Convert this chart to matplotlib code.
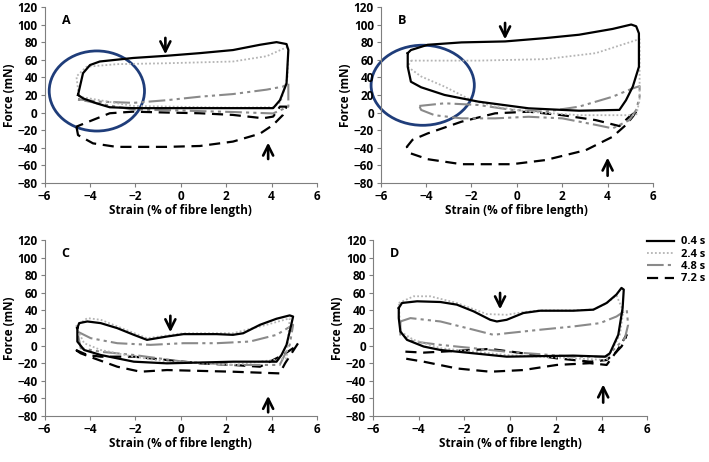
import matplotlib
matplotlib.use("Agg")
import matplotlib.pyplot as plt
from matplotlib.patches import Ellipse

plt.rcParams['font.family'] = ['Open Sans', 'DejaVu Sans']
plt.rcParams['font.weight'] = 'bold'

# legend labels
labels = ['0.4 s', '2.4 s', '4.8 s', '7.2 s']

# panel A loops (strain %, force mN)
A_04 = [(-4.53, 20), (-4.31, 44.7), (-4.0, 54), (-3.57, 58), (-2.1, 62), (-0.63, 64.5), (0.84, 67.5),
        (2.3, 71), (3.49, 77), (4.22, 80), (4.66, 77.8), (4.74, 71), (4.66, 33), (4.37, 14), (4.07, 5),
        (2.3, 5), (-2.1, 5), (-3.13, 6), (-3.72, 10.5), (-4.3, 16), (-4.53, 20)]
A_24 = [(-4.5, 20), (-4.6, 41), (-4.16, 52), (-2.8, 55), (-0.63, 56), (2.3, 58), (3.78, 64), (4.74, 75),
        (4.7, 40), (4.4, 12), (4.07, 6), (2.3, 5.5), (-2.1, 7.5), (-3.57, 14), (-4.46, 18), (-4.5, 20)]
A_48 = [(-4.53, 15), (-3.57, 12.4), (-2.1, 11), (-0.63, 14), (0.84, 18), (2.3, 21), (3.78, 26), (4.5, 29.5),
        (4.74, 33), (4.74, 6.7), (4.07, -1), (2.3, 0.6), (-0.63, 2.7), (-2.1, 3.3), (-3.57, 10), (-4.53, 15)]
A_72 = [(-4.6, -16), (-4.53, -25.6), (-3.87, -35), (-2.84, -39), (-0.63, -39), (0.84, -38), (2.3, -33),
        (3.49, -24), (4.07, -14), (4.5, -2.8), (4.66, 6.7), (4.37, 6.7), (4.07, -4.6), (3.63, -6.5),
        (2.3, -2.7), (0.84, -0.8), (-0.63, 0), (-2.1, 1), (-3.13, -0.8), (-3.87, -8.4), (-4.6, -16)]

# panel B loops
B_04 = [(-4.81, 67.5), (-4.67, 71), (-3.93, 77), (-2.44, 79.7), (-0.52, 80.8), (1.26, 84.6), (2.74, 88.4),
        (4.22, 95), (5.04, 100), (5.26, 98), (5.38, 90), (5.38, 52), (5.11, 29.5), (4.81, 14), (4.52, 3),
        (2.74, 2.1), (0.52, 4.8), (-1.7, 12.4), (-3.19, 20), (-4.22, 28.7), (-4.67, 35), (-4.81, 52),
        (-4.81, 67.5)]
B_24 = [(-4.67, 59), (-1.7, 59), (1.26, 60.7), (3.48, 67.5), (5.41, 83.5), (5.41, 14), (5.26, -3),
        (2.74, -3), (0.52, 1), (-0.96, 6.7), (-2.0, 14), (-3.19, 29.5), (-4.22, 41), (-4.81, 52), (-4.67, 59)]
B_48 = [(-4.3, 7.5), (-3.19, 10.5), (-1.7, 8.6), (-0.22, 3), (1.26, 1), (2.74, 6.7), (4.22, 18),
        (5.11, 27.5), (5.41, 30), (5.41, 18), (5.26, 3), (4.96, -8.6), (4.22, -18), (3.48, -14),
        (2.0, -6.6), (0.52, -4.8), (-0.96, -6.6), (-2.44, -6.6), (-3.63, -3), (-4.22, 3), (-4.3, 7.5)]
B_72 = [(5.26, 1), (5.11, -4.6), (4.81, -14), (4.22, -27.5), (3.04, -42.7), (1.26, -54), (-0.22, -58.7),
        (-2.44, -58.7), (-3.93, -53), (-4.67, -46.5), (-4.85, -39), (-4.6, -31), (-3.93, -23.7),
        (-2.44, -10.4), (-0.96, -0.9), (0.52, 1), (2.0, -3), (3.48, -8.6), (4.52, -15.4), (4.96, -4.6),
        (5.26, 1)]

# panel C loops
C_04 = [(-4.56, 19.8), (-4.48, 25.5), (-4.12, 27.4), (-3.53, 25.5), (-2.8, 19.8), (-2.07, 12.2),
        (-1.49, 6.5), (-0.61, 10.3), (0.12, 13), (1.58, 13), (2.3, 12.2), (2.75, 14), (3.49, 23.6),
        (4.22, 30.5), (4.8, 34.3), (4.95, 33), (4.8, 16), (4.66, 0.8), (4.44, -10.6), (4.22, -18.3),
        (2.32, -18.3), (-0.61, -20.2), (-2.07, -18.3), (-2.8, -14.5), (-3.53, -10.7), (-4.26, -5),
        (-4.56, 4.6), (-4.56, 19.8)]
C_24 = [(-4.63, 21.7), (-4.12, 31.2), (-3.53, 29.3), (-1.49, 8.4), (0.12, 14), (2.3, 14), (3.78, 23.6),
        (4.8, 31), (4.66, -14.5), (2.3, -22), (-0.61, -18.3), (-2.07, -12.6), (-3.53, -5), (-4.26, 2.7),
        (-4.63, 21.7)]
C_48 = [(-4.56, 16), (-3.97, 8.4), (-2.8, 2.7), (-1.34, 0.8), (0.12, 2.7), (1.58, 2.7), (3.05, 4.6),
        (4.22, 12.2), (4.95, 23.6), (4.8, 0.8), (4.36, -22), (2.3, -22), (0.12, -18.3), (-2.07, -10.7),
        (-3.53, -7), (-4.41, -3), (-4.56, 16)]
C_72 = [(-4.63, -5), (-4.12, -10.7), (-3.53, -12.6), (-2.07, -12.6), (-0.61, -16.4), (0.85, -20.2),
        (2.3, -22), (3.49, -24), (4.5, -10.7), (4.95, -3), (5.17, 2.7), (4.6, -20), (4.36, -31.6),
        (2.3, -29.7), (-0.61, -27.8), (-1.78, -29.7), (-2.8, -24), (-3.82, -14.5), (-4.41, -8.8),
        (-4.63, -5)]

# panel D loops
D_04 = [(-4.87, 42.7), (-4.73, 48.4), (-4.07, 50.3), (-3.05, 49.5), (-2.33, 46.5), (-1.6, 38.9),
        (-0.87, 29.3), (-0.58, 27.4), (-0.15, 29.3), (0.58, 37), (1.31, 39.6), (2.76, 39.6), (3.64, 40.8),
        (4.22, 48.4), (4.65, 58), (4.87, 65.5), (4.97, 63.6), (4.92, 42.7), (4.73, 12.2), (4.36, -8.8),
        (4.15, -12.6), (2.76, -11.4), (-0.15, -12.6), (-1.6, -8.8), (-3.05, -5), (-3.78, -1.1),
        (-4.51, 6.5), (-4.8, 16), (-4.87, 31.2), (-4.87, 42.7)]
D_24 = [(-4.87, 48.4), (-4.22, 56), (-3.49, 56), (-2.33, 48.4), (-1.02, 35.8), (-0.15, 35), (0.58, 38),
        (1.31, 40), (2.76, 40), (3.64, 41), (4.22, 48), (4.65, 57), (4.95, 38.9), (4.8, 12.2),
        (4.22, -16.4), (2.76, -14.5), (-0.15, -10.7), (-3.05, -3), (-4.22, 6.5), (-4.8, 16), (-4.87, 48.4)]
D_48 = [(-4.8, 27.4), (-4.36, 31.2), (-3.05, 27.4), (-1.6, 18), (-0.73, 12.2), (-0.15, 14), (1.31, 18),
        (2.76, 21.7), (3.93, 25.5), (4.65, 33), (5.1, 40.8), (5.16, 23.6), (5.02, 8.4), (4.22, -12.6),
        (2.76, -12.6), (-0.15, -7), (-1.6, -3), (-3.05, 0.8), (-4.22, 4.6), (-4.8, 12.2), (-4.8, 27.4)]
D_72 = [(-4.58, -6.9), (-3.78, -8), (-2.33, -6), (-0.87, -3.8), (0.58, -8.8), (2.04, -14.5),
        (3.49, -18.3), (4.22, -16.4), (4.65, -7), (4.87, -1.1), (5.0, 4.6), (5.09, 12.2), (4.7, -5),
        (4.22, -22), (3.49, -20), (2.04, -22), (0.58, -27.8), (-0.87, -29.7), (-2.33, -26),
        (-3.78, -18.3), (-4.65, -14.5)]

# arrows: (x, y_tail, y_head) for the down and up arrows
A_arrows = [(-0.68, 88, 63), (3.85, -56, -31)]
B_arrows = [(-0.52, 105, 80), (4.0, -75, -48)]
C_arrows = [(-0.46, 37, 12), (3.85, -79, -54)]
D_arrows = [(-0.44, 63, 38), (4.07, -68, -41)]

# blue circles: centre x, centre y, width, height
A_circle = (-3.7, 24.5, 4.2, 91)
B_circle = (-4.15, 31, 4.55, 91)

styles = [dict(color='black', lw=1.6, ls='-'),
          dict(color='#b4b4b4', lw=1.3, ls=(0, (1, 1.2))),
          dict(color='#8a8a8a', lw=1.5, ls=(0, (8, 2, 1.5, 2, 1.5, 2))),
          dict(color='black', lw=1.6, ls=(0, (5, 3)))]

fig = plt.figure(figsize=(7.09, 4.62), dpi=100)
pos = {'A': [0.063, 0.604, 0.384, 0.381],
       'B': [0.537, 0.604, 0.384, 0.381],
       'C': [0.063, 0.0996, 0.384, 0.381],
       'D': [0.526, 0.0996, 0.387, 0.381]}
panels = {'A': ([A_04, A_24, A_48, A_72], A_arrows, A_circle),
          'B': ([B_04, B_24, B_48, B_72], B_arrows, B_circle),
          'C': ([C_04, C_24, C_48, C_72], C_arrows, None),
          'D': ([D_04, D_24, D_48, D_72], D_arrows, None)}

for name, (loops, arrows, circle) in panels.items():
    ax = fig.add_axes(pos[name])
    # draw in reverse so solid line is on top
    for i in [3, 2, 1, 0]:
        xs = [p[0] for p in loops[i]]
        ys = [p[1] for p in loops[i]]
        ax.plot(xs, ys, label=labels[i], **styles[i])
    for x, y0, y1 in arrows:
        ax.annotate('', xy=(x, y1), xytext=(x, y0),
                    arrowprops=dict(arrowstyle='->', color='black', lw=1.9, mutation_scale=18))
    if circle:
        e = Ellipse((circle[0], circle[1]), circle[2], circle[3], fill=False,
                    edgecolor='#1f3d7a', lw=2, clip_on=False)
        ax.add_patch(e)
    ax.text(-5.25, 101, name, fontsize=9, fontweight='bold')
    ax.set_xlim(-6, 6)
    ax.set_ylim(-80, 120)
    ax.set_xticks(range(-6, 7, 2))
    ax.set_yticks(range(-80, 121, 20))
    ax.set_xticklabels([str(v).replace('-', '\u2212') for v in range(-6, 7, 2)])
    ax.set_yticklabels([str(v).replace('-', '\u2212') for v in range(-80, 121, 20)])
    ax.spines['top'].set_visible(False)
    ax.spines['right'].set_visible(False)
    for s in ['left', 'bottom']:
        ax.spines[s].set_color('#7f7f7f')
    ax.tick_params(direction='out', length=3, width=0.8, color='#7f7f7f', labelsize=8.5, pad=2)
    ax.set_xlabel('Strain (% of fibre length)', fontsize=8.5, fontweight='bold', labelpad=1)
    ax.set_ylabel('Force (mN)', fontsize=8.5, fontweight='bold', labelpad=1)
    if name == 'D':
        h, l = ax.get_legend_handles_labels()
        fig.legend(h[::-1], l[::-1], loc='upper left', bbox_to_anchor=(0.902, 0.505),
                   frameon=False, fontsize=8, handlelength=2.4, labelspacing=0.12,
                   handletextpad=0.6, borderpad=0.2)

fig.savefig('out.png', dpi=100)
